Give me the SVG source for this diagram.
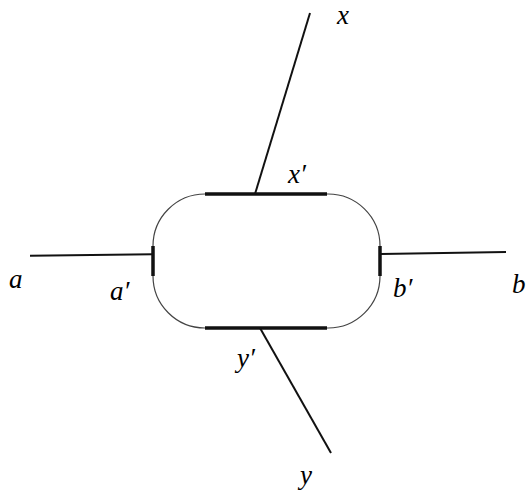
<svg xmlns="http://www.w3.org/2000/svg" width="526" height="492" viewBox="0 0 526 492">
<style>
.lbl{font-family:'Liberation Serif','Times New Roman',serif;font-style:italic;font-size:27px;fill:#000}
.arc{fill:none;stroke:#444;stroke-width:1.2}
.port{fill:none;stroke:#111;stroke-width:3.5}
.edge{fill:none;stroke:#111;stroke-width:2}
</style>
<rect width="526" height="492" fill="#fff"/>
<g id="box">
<path class="arc" d="M205,194 A52,52 0 0 0 153,246 M153,276 A52,52 0 0 0 205,328 M327,328 A52,52 0 0 0 380,276 M380,246 A52,52 0 0 0 327,194"/>
<path class="port" d="M205,194 L327,194"/>
<path class="port" d="M205,328 L327,328"/>
<path class="port" d="M153,246 L153,276"/>
<path class="port" d="M380,246 L380,276"/>
</g>
<g id="connectors">
<path class="edge" d="M30,255.7 L153,254.3"/>
<path class="edge" d="M381,254 L506,252"/>
<path class="edge" d="M255,194 L310,13"/>
<path class="edge" d="M260,328 L331,453"/>
</g>
<g id="labels">
<text class="lbl" font-family="Liberation Serif" x="9" y="288">a</text>
<text class="lbl" font-family="Liberation Serif" x="110" y="300">a′</text>
<text class="lbl" font-family="Liberation Serif" x="393" y="297">b′</text>
<text class="lbl" font-family="Liberation Serif" x="512" y="293">b</text>
<text class="lbl" font-family="Liberation Serif" x="337" y="24">x</text>
<text class="lbl" font-family="Liberation Serif" x="288" y="183">x′</text>
<text class="lbl" font-family="Liberation Serif" x="237" y="367">y′</text>
<text class="lbl" font-family="Liberation Serif" x="300" y="484">y</text>
</g>
</svg>
